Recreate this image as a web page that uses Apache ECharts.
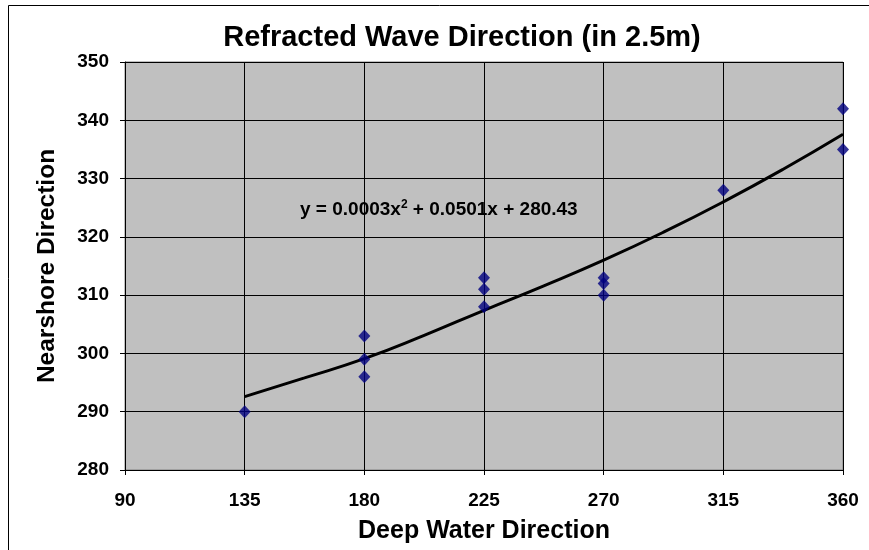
<!DOCTYPE html>
<html><head><meta charset="utf-8">
<script src="https://cdn.jsdelivr.net/npm/echarts@6/dist/echarts.min.js"></script>
<style>html,body{margin:0;padding:0;background:#fff}#c{width:869px;height:550px}</style>
</head><body><div id="c"></div>
<script>
const titleText = 'Refracted Wave Direction (in 2.5m)';
const xName = 'Deep Water Direction';
const yName = 'Nearshore Direction';
const obsX = [135, 180, 180, 180, 225, 225, 225, 270, 270, 270, 315, 360, 360];
const obsY = [290, 303, 299, 296, 313, 311, 308, 313, 312, 310, 328, 342, 335];
const trendX = [135, 157.5, 180, 202.5, 225, 247.5, 270, 292.5, 315, 337.5, 360];
const trendY = [292.6, 295.8, 299.1, 303.1, 307.4, 311.6, 316.0, 320.8, 326.0, 331.6, 337.6];
const equation = ['y = 0.0003x', '2', ' + 0.0501x + 280.43'];

const chart = echarts.init(document.getElementById('c'));
const font = 'Liberation Sans, Arial, sans-serif';
chart.setOption({
  animation: false,
  backgroundColor: '#fff',
  title: { text: titleText, left: 457, top: 18, textAlign: 'center',
    textStyle: { fontFamily: font, fontWeight: 'bold', fontSize: 29, color: '#000' } },
  grid: { left: 125, right: 26, top: 62, bottom: 80, show: true, backgroundColor: '#c0c0c0', borderColor: '#808080', borderWidth: 1 },
  xAxis: { type: 'value', min: 90, max: 360, interval: 45,
    name: xName, nameLocation: 'middle', nameGap: 49,
    nameTextStyle: { fontFamily: font, fontWeight: 'bold', fontSize: 25, color: '#000' },
    axisLine: { show: true, onZero: false, lineStyle: { color: '#000' } },
    axisTick: { show: true, length: 5, lineStyle: { color: '#000' } },
    axisLabel: { fontFamily: font, fontWeight: 'bold', fontSize: 19, color: '#000', margin: 21 },
    splitLine: { show: true, lineStyle: { color: '#000', width: 1 } } },
  yAxis: { type: 'value', min: 280, max: 350, interval: 10,
    name: yName, nameLocation: 'middle', nameGap: 65, nameRotate: 90,
    nameTextStyle: { fontFamily: font, fontWeight: 'bold', fontSize: 24.5, color: '#000' },
    axisLine: { show: true, onZero: false, lineStyle: { color: '#000' } },
    axisTick: { show: true, length: 5, lineStyle: { color: '#000' } },
    axisLabel: { fontFamily: font, fontWeight: 'bold', fontSize: 19, color: '#000', margin: 16 },
    splitLine: { show: true, lineStyle: { color: '#000', width: 1 } } },
  series: [
    { type: 'line', data: trendX.map((x, i) => [x, trendY[i]]), smooth: true, symbol: 'none',
      lineStyle: { color: '#000', width: 3 }, z: 3 },
    { type: 'scatter', data: obsX.map((x, i) => [x, obsY[i]]), symbol: 'diamond', symbolSize: [12, 13],
      itemStyle: { color: '#000080' }, z: 4 }
  ],
  graphic: [
    { type: 'rect', shape: { x: 8.5, y: 5.5, width: 900, height: 600 }, style: { fill: 'none', stroke: '#000', lineWidth: 1 }, silent: true },
    { type: 'text', left: 300, top: 199, style: {
      text: '{a|' + equation[0] + '}{s|' + equation[1] + '}{a|' + equation[2] + '}',
      rich: { a: { fontFamily: font, fontWeight: 'bold', fontSize: 19, color: '#000' },
              s: { fontFamily: font, fontWeight: 'bold', fontSize: 12, color: '#000', verticalAlign: 'top', padding: [0, 0, 9, 0] } } } }
  ]
});
</script></body></html>
